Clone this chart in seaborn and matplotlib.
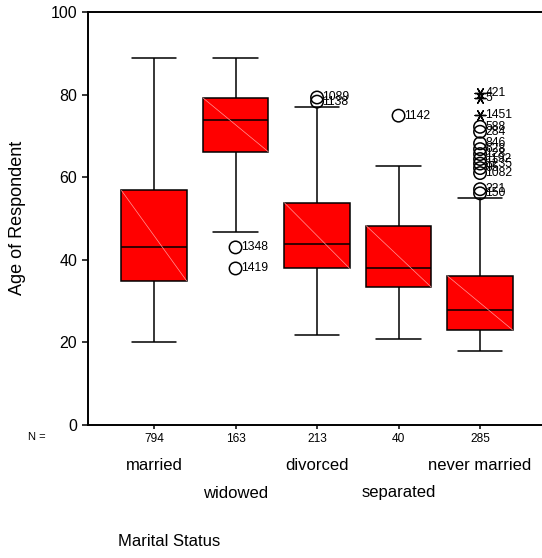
import numpy as np
import pandas as pd
import matplotlib
matplotlib.use("Agg")
import matplotlib.pyplot as plt
import seaborn as sns

# ---- data ----
categories = ["married", "widowed", "divorced", "separated", "never married"]
n_counts = ["794", "163", "213", "40", "285"]
# five-number summaries: lower whisker, Q1, median, Q3, upper whisker
whisker_low = [20.0, 46.8, 21.9, 20.8, 17.8]
q1 = [34.9, 66.2, 37.9, 33.4, 23.0]
median = [43.1, 73.9, 43.9, 37.9, 27.8]
q3 = [56.8, 79.2, 53.8, 48.3, 36.1]
whisker_high = [88.9, 88.9, 77.0, 62.8, 55.0]

# outliers (circles) and extremes (asterisks)
outlier_cat = ["widowed", "widowed", "divorced", "divorced", "separated",
               "never married", "never married", "never married", "never married",
               "never married", "never married", "never married", "never married",
               "never married", "never married", "never married"]
outlier_age = [43.0, 37.9, 79.3, 78.3, 74.9,
               72.2, 71.0, 68.2, 66.8, 65.6, 64.4, 63.3, 62.2, 61.0, 57.1, 56.1]
outlier_id = ["1348", "1419", "1089", "1138", "1142",
              "588", "284", "846", "628", "128", "1192", "1235", "95", "1082", "221", "150"]
extreme_cat = ["never married", "never married", "never married"]
extreme_age = [80.3, 79.1, 75.0]
extreme_id = ["421", "5", "1451"]

# ---- build long table of summary values ----
rows = []
for i, c in enumerate(categories):
    for v in (whisker_low[i], q1[i], median[i], q3[i], whisker_high[i]):
        rows.append({"status": c, "age": v})
df = pd.DataFrame(rows)

sns.set_theme(style="white")
plt.rcParams["font.family"] = ["Liberation Sans", "DejaVu Sans"]
plt.rcParams["text.color"] = "black"
plt.rcParams["xtick.color"] = "black"
plt.rcParams["ytick.color"] = "black"

W, H = 542, 558
fig = plt.figure(figsize=(W / 100, H / 100), dpi=100)
ax = fig.add_axes([88 / W, 1 - 425 / H, 1 - 88 / W, (425 - 12) / H])

sns.boxplot(data=df, x="status", y="age", order=categories, color="#ff0000",
            saturation=1, width=0.8, whis=np.inf, linecolor="black",
            linewidth=1.1, ax=ax)

# widen whisker caps
for ln in ax.lines:
    xd = np.asarray(ln.get_xdata(), dtype=float)
    yd = np.asarray(ln.get_ydata(), dtype=float)
    if len(xd) == 2 and yd[0] == yd[1] and abs(xd[1] - xd[0]) < 0.6:
        cx = (xd[0] + xd[1]) / 2
        ln.set_xdata([cx - 0.275, cx + 0.275])

# faint diagonal inside each box
for p in list(ax.patches):
    bb = p.get_extents().transformed(ax.transData.inverted())
    ax.plot([bb.x0, bb.x1], [bb.y1, bb.y0], color="#ff9a9a", lw=0.5,
            zorder=p.get_zorder() + 0.1)

# outliers
pos = {c: i for i, c in enumerate(categories)}
ox = [pos[c] for c in outlier_cat]
ax.scatter(ox, outlier_age, s=80, facecolors="none", edgecolors="black",
           linewidths=1.1, zorder=5)
ex = [pos[c] for c in extreme_cat]
ax.scatter(ex, extreme_age, s=60, marker=(6, 2, 90), color="black",
           linewidths=1.0, zorder=5)
for x, y, t in zip(ox + ex, outlier_age + extreme_age, outlier_id + extreme_id):
    ax.annotate(t, (x, y), xytext=(4, 0), textcoords="offset points",
                ha="left", va="center", fontsize=8.8, color="black", zorder=6)

ax.set_xlim(-0.81, 4.76)
ax.set_ylim(0, 100)
ax.set_yticks([0, 20, 40, 60, 80, 100])
ax.set_xticks(range(len(categories)))
ax.set_xticklabels(n_counts, fontsize=8.6)
ax.tick_params(axis="y", labelsize=11.5, length=4.3, width=1.1, pad=3.5,
               direction="out", left=True, colors="black")
ax.tick_params(axis="x", length=3, width=1.1, pad=3, direction="out",
               bottom=True, colors="black")
ax.set_xlabel("")
ax.set_ylabel("")
for s in ["left", "bottom", "top"]:
    ax.spines[s].set_visible(True)
    ax.spines[s].set_color("black")
    ax.spines[s].set_linewidth(1.4)
ax.spines["right"].set_visible(False)
ax.grid(False)

# texts in pixel positions
def ftext(x, y, s, **kw):
    fig.text(x / W, 1 - y / H, s, color="black", **kw)

ftext(37, 437, "N =", ha="center", va="center", fontsize=8)
for i, c in enumerate(categories):
    yy = 465 if i % 2 == 0 else 493
    xd = ax.transData.transform((i, 0))[0]
    ftext(xd, yy, c, ha="center", va="center", fontsize=12)
ftext(118, 541, "Marital Status", ha="left", va="center", fontsize=12)
ftext(18, 218, "Age of Respondent", ha="center", va="center", rotation=90, fontsize=13)

fig.savefig("out.png", dpi=100, facecolor="white")
